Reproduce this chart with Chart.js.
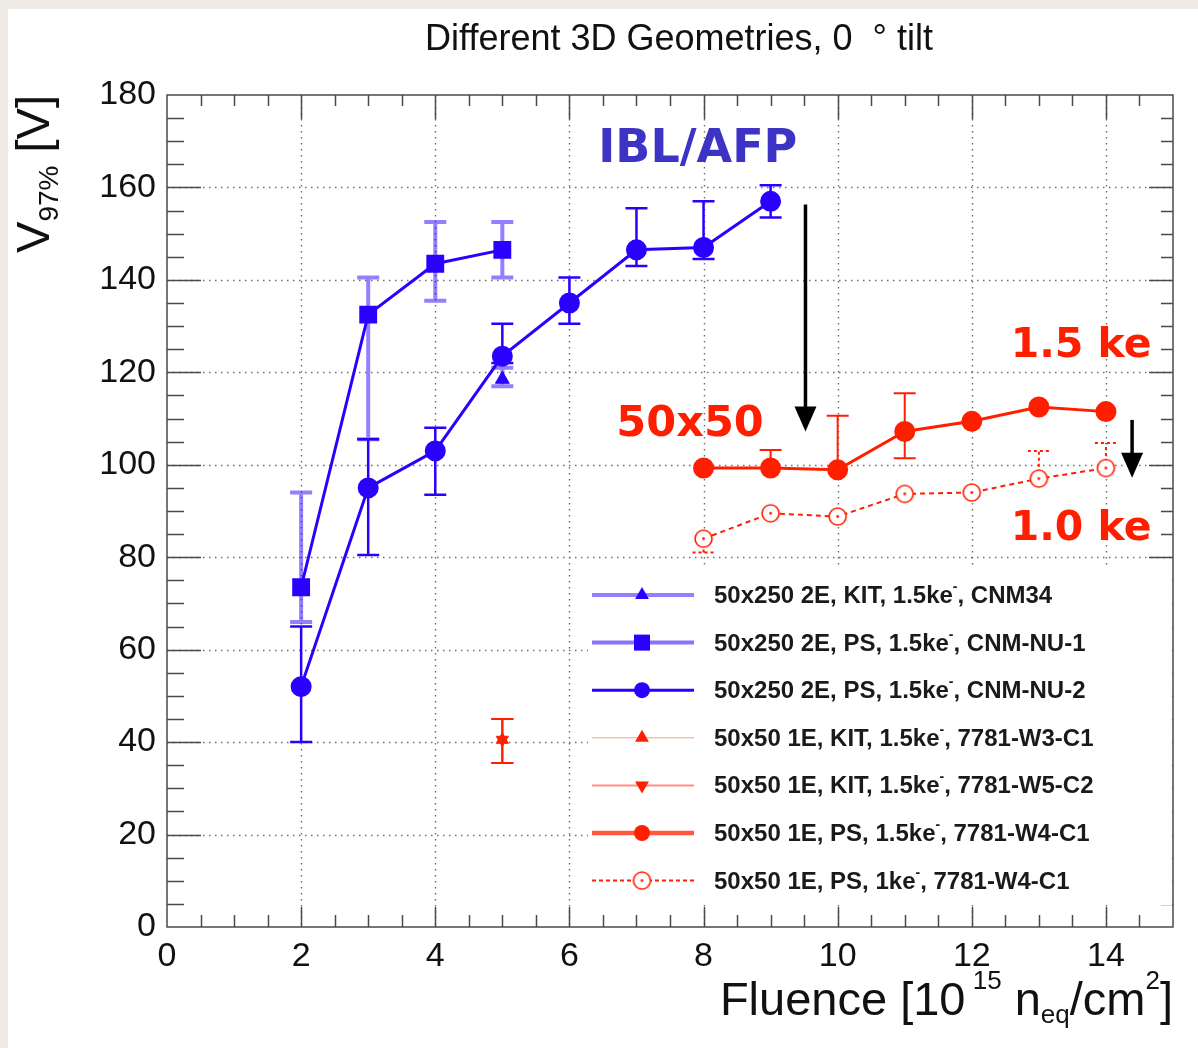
<!DOCTYPE html>
<html>
<head>
<meta charset="utf-8">
<script src="https://cdn.jsdelivr.net/npm/chart.js@4.4.1/dist/chart.umd.min.js"></script>
<style>
  html, body { margin: 0; padding: 0; background: #fff; }
  canvas { display: block; }
</style>
</head>
<body>
<canvas id="chart" width="1198" height="1048"></canvas>
<script>
// ---- data ----
const xTicks = [0, 2, 4, 6, 8, 10, 12, 14];
const yTicks = [0, 20, 40, 60, 80, 100, 120, 140, 160, 180];

// 50x250 2E, KIT, 1.5ke-, CNM34
const cnm34X = [5];
const cnm34Y = [118.5];
const cnm34Lo = [117];
const cnm34Hi = [121];

// 50x250 2E, PS, 1.5ke-, CNM-NU-1
const nu1X = [2, 3, 4, 5];
const nu1Y = [73.5, 132.5, 143.5, 146.5];
const nu1Lo = [66, 105.5, 135.5, 140.5];
const nu1Hi = [94, 140.5, 152.5, 152.5];

// 50x250 2E, PS, 1.5ke-, CNM-NU-2
const nu2X = [2, 3, 4, 5, 6, 7, 8, 9];
const nu2Y = [52, 95, 103, 123.5, 135, 146.5, 147, 157];
const nu2Lo = [40, 80.5, 93.5, 122, 130.5, 143, 144.5, 153.5];
const nu2Hi = [65, 105.5, 108, 130.5, 140.5, 155.5, 157, 160.5];

// 50x50 1E, KIT, 1.5ke-, 7781-W3-C1 / 7781-W5-C2
const w3X = [5];
const w3Y = [40.5];
const w3Lo = [35.5];
const w3Hi = [45];
const w5X = [5];
const w5Y = [40.5];
const w5Lo = [35.5];
const w5Hi = [45];

// 50x50 1E, PS, 1.5ke-, 7781-W4-C1
const w4X = [8, 9, 10, 11, 12, 13, 14];
const w4Y = [99.3, 99.3, 98.9, 107.2, 109.4, 112.5, 111.5];
const w4Lo = [null, null, null, 101.4, null, null, null];
const w4Hi = [null, 103.2, 110.6, 115.5, null, null, null];

// 50x50 1E, PS, 1ke-, 7781-W4-C1
const w4kX = [8, 9, 10, 11, 12, 13, 14];
const w4kY = [84, 89.5, 88.8, 93.7, 94, 97, 99.3];
const w4kLo = [81, null, null, null, null, null, null];
const w4kHi = [null, null, null, null, null, 103, 104.7];

// ---- styles ----
const FONT = '"Liberation Sans", Arial, Helvetica, sans-serif';
const BOLDFONT = '"DejaVu Sans", "Liberation Sans", sans-serif';
const BLUE = '#2a00ff';
const BLUE_LIGHT = 'rgba(42,0,255,0.5)';
const RED = '#ff1f00';

function pts(xs, ys) {
  return xs.map((x, i) => ({ x: x, y: ys[i] }));
}

function makeOpenCircle(color, r) {
  const c = document.createElement('canvas');
  const s = Math.ceil(r * 2 + 4);
  c.width = s;
  c.height = s;
  const g = c.getContext('2d');
  g.fillStyle = '#fff';
  g.strokeStyle = color;
  g.lineWidth = 1.6;
  g.beginPath();
  g.arc(s / 2, s / 2, r, 0, Math.PI * 2);
  g.fill();
  g.stroke();
  g.fillStyle = color;
  g.beginPath();
  g.arc(s / 2, s / 2, 1.4, 0, Math.PI * 2);
  g.fill();
  return c;
}
const openCircle = makeOpenCircle(RED, 8.5);

const datasets = [
  {
    label: '50x250 2E, KIT, 1.5ke^{-}, CNM34',
    data: pts(cnm34X, cnm34Y), errLo: cnm34Lo, errHi: cnm34Hi,
    errColor: BLUE_LIGHT, errWidth: 4,
    showLine: false, pointStyle: 'triangle', pointRadius: 8,
    backgroundColor: BLUE, borderColor: BLUE, borderWidth: 1,
    legend: { line: 'rgba(42,0,255,0.5)', lw: 4, marker: 'triangle', size: 8 }
  },
  {
    label: '50x250 2E, PS, 1.5ke^{-}, CNM-NU-1',
    data: pts(nu1X, nu1Y), errLo: nu1Lo, errHi: nu1Hi,
    errColor: BLUE_LIGHT, errWidth: 4,
    showLine: true, borderColor: BLUE, borderWidth: 3,
    pointStyle: 'rect', pointRadius: 10.5, pointBackgroundColor: BLUE, pointBorderColor: BLUE,
    legend: { line: 'rgba(42,0,255,0.55)', lw: 4, marker: 'rect', size: 8 }
  },
  {
    label: '50x250 2E, PS, 1.5ke^{-}, CNM-NU-2',
    data: pts(nu2X, nu2Y), errLo: nu2Lo, errHi: nu2Hi,
    errColor: BLUE, errWidth: 2.5,
    showLine: true, borderColor: BLUE, borderWidth: 3,
    pointStyle: 'circle', pointRadius: 9, pointBackgroundColor: BLUE, pointBorderColor: BLUE,
    legend: { line: BLUE, lw: 3, marker: 'circle', size: 8 }
  },
  {
    label: '50x50 1E, KIT, 1.5ke^{-}, 7781-W3-C1',
    data: pts(w3X, w3Y), errLo: w3Lo, errHi: w3Hi,
    errColor: RED, errWidth: 2,
    showLine: false, pointStyle: 'triangle', pointRadius: 7,
    backgroundColor: RED, borderColor: RED, borderWidth: 1,
    legend: { line: 'rgba(255,31,0,0.3)', lw: 1.5, marker: 'triangle', size: 8 }
  },
  {
    label: '50x50 1E, KIT, 1.5ke^{-}, 7781-W5-C2',
    data: pts(w5X, w5Y), errLo: w5Lo, errHi: w5Hi,
    errColor: RED, errWidth: 2,
    showLine: false, pointStyle: 'triangle', pointRotation: 180, pointRadius: 7,
    backgroundColor: RED, borderColor: RED, borderWidth: 1,
    legend: { line: 'rgba(255,31,0,0.5)', lw: 2, marker: 'triangleDown', size: 8 }
  },
  {
    label: '50x50 1E, PS, 1.5ke^{-}, 7781-W4-C1',
    data: pts(w4X, w4Y), errLo: w4Lo, errHi: w4Hi,
    errColor: RED, errWidth: 2,
    showLine: true, borderColor: RED, borderWidth: 3,
    pointStyle: 'circle', pointRadius: 9, pointBackgroundColor: RED, pointBorderColor: RED,
    legend: { line: 'rgba(255,31,0,0.75)', lw: 4.5, marker: 'circle', size: 8 }
  },
  {
    label: '50x50 1E, PS, 1ke^{-}, 7781-W4-C1',
    data: pts(w4kX, w4kY), errLo: w4kLo, errHi: w4kHi,
    errColor: RED, errWidth: 2, errDash: [3, 3],
    showLine: true, borderColor: RED, borderWidth: 2, borderDash: [5, 4],
    pointStyle: openCircle, pointRadius: 9,
    legend: { line: RED, lw: 2, dash: [4, 3], marker: 'open', size: 8 }
  }
];

const notes = [
  { text: 'IBL/AFP', x: 6.43, y: 165.5, size: 46, color: '#3d33c4', align: 'left' },
  { text: '50x50', x: 6.7, y: 106.3, size: 43, color: RED, align: 'left' },
  { text: '1.5 ke', x: 14.68, y: 123.4, size: 41, color: RED, align: 'right' },
  { text: '1.0 ke', x: 14.68, y: 83.8, size: 41, color: RED, align: 'right' }
];
const arrows = [
  { x: 9.52, from: 156.3, to: 107.2 },
  { x: 14.39, from: 109.7, to: 97.2 }
];

// ---- rich text helper (ROOT-like ^{} and _{}) ----
function richParts(str) {
  const parts = [];
  const re = /(\^|_)\{([^}]*)\}/g;
  let last = 0, m;
  while ((m = re.exec(str))) {
    if (m.index > last) parts.push({ t: str.slice(last, m.index), k: 0 });
    parts.push({ t: m[2], k: m[1] === '^' ? 1 : -1 });
    last = re.lastIndex;
  }
  if (last < str.length) parts.push({ t: str.slice(last), k: 0 });
  return parts;
}

function drawRich(ctx, str, x, y, size, align, weight, family, supUp, subDown, ratio) {
  const parts = richParts(str);
  const small = Math.round(size * (ratio || 0.58));
  const fontOf = p => weight + ' ' + (p.k ? small : size) + 'px ' + family;
  let total = 0;
  parts.forEach(p => {
    ctx.font = fontOf(p);
    p.w = ctx.measureText(p.t).width;
    total += p.w;
  });
  let cx = align === 'right' ? x - total : align === 'center' ? x - total / 2 : x;
  ctx.textAlign = 'left';
  ctx.textBaseline = 'alphabetic';
  parts.forEach(p => {
    ctx.font = fontOf(p);
    const dy = p.k === 1 ? -size * supUp : p.k === -1 ? size * subDown : 0;
    ctx.fillText(p.t, cx, y + dy);
    cx += p.w;
  });
  return total;
}

function drawMarker(ctx, kind, x, y, r, color) {
  ctx.save();
  ctx.fillStyle = color;
  ctx.strokeStyle = color;
  ctx.beginPath();
  if (kind === 'triangle') {
    ctx.moveTo(x, y - r);
    ctx.lineTo(x + r * 0.866, y + r * 0.5);
    ctx.lineTo(x - r * 0.866, y + r * 0.5);
    ctx.closePath();
    ctx.fill();
  } else if (kind === 'triangleDown') {
    ctx.moveTo(x, y + r);
    ctx.lineTo(x + r * 0.866, y - r * 0.5);
    ctx.lineTo(x - r * 0.866, y - r * 0.5);
    ctx.closePath();
    ctx.fill();
  } else if (kind === 'rect') {
    ctx.fillRect(x - r, y - r, 2 * r, 2 * r);
  } else if (kind === 'circle') {
    ctx.arc(x, y, r, 0, Math.PI * 2);
    ctx.fill();
  } else if (kind === 'open') {
    ctx.drawImage(openCircle, x - openCircle.width / 2, y - openCircle.height / 2);
  }
  ctx.restore();
}

const rootStyle = {
  id: 'rootStyle',
  beforeDraw(chart) {
    const ctx = chart.ctx;
    ctx.save();
    ctx.fillStyle = '#efebe4';
    ctx.fillRect(0, 0, chart.width, chart.height);
    ctx.fillStyle = '#ffffff';
    ctx.fillRect(8, 9, chart.width - 8, chart.height - 9);
    ctx.restore();
  },
  beforeDatasetsDraw(chart) {
    const { ctx, chartArea: a, scales: { x, y } } = chart;
    ctx.save();
    // dotted grid
    ctx.strokeStyle = '#6e6e6e';
    ctx.lineWidth = 1.4;
    ctx.setLineDash([1.5, 4.5]);
    xTicks.forEach(v => {
      if (v <= x.min || v >= x.max) return;
      const px = Math.round(x.getPixelForValue(v)) + 0.5;
      ctx.beginPath(); ctx.moveTo(px, a.top); ctx.lineTo(px, a.bottom); ctx.stroke();
    });
    yTicks.forEach(v => {
      if (v <= y.min || v >= y.max) return;
      const py = Math.round(y.getPixelForValue(v)) + 0.5;
      ctx.beginPath(); ctx.moveTo(a.left, py); ctx.lineTo(a.right, py); ctx.stroke();
    });
    // error bars
    chart.data.datasets.forEach(ds => {
      if (!ds.errLo) return;
      ctx.strokeStyle = ds.errColor;
      ctx.lineWidth = ds.errWidth;
      ctx.setLineDash(ds.errDash || []);
      const cap = 11;
      ds.data.forEach((p, j) => {
        const lo = ds.errLo[j], hi = ds.errHi[j];
        if (lo == null && hi == null) return;
        const px = x.getPixelForValue(p.x);
        const pLo = y.getPixelForValue(lo == null ? p.y : lo);
        const pHi = y.getPixelForValue(hi == null ? p.y : hi);
        ctx.beginPath();
        ctx.moveTo(px, pLo); ctx.lineTo(px, pHi);
        if (lo != null) { ctx.moveTo(px - cap, pLo); ctx.lineTo(px + cap, pLo); }
        if (hi != null) { ctx.moveTo(px - cap, pHi); ctx.lineTo(px + cap, pHi); }
        ctx.stroke();
      });
    });
    ctx.restore();
  },
  afterDatasetsDraw(chart) {
    const { ctx, chartArea: a, scales: { x, y } } = chart;
    ctx.save();

    // frame and ticks
    ctx.setLineDash([]);
    ctx.strokeStyle = '#4a4a4a';
    ctx.lineWidth = 1.5;
    ctx.strokeRect(a.left, a.top, a.right - a.left, a.bottom - a.top);
    ctx.beginPath();
    for (let v = 0.5; v < x.max; v += 0.5) {
      const px = Math.round(x.getPixelForValue(v)) + 0.5;
      const major = Math.abs(v / 2 - Math.round(v / 2)) < 1e-9;
      ctx.moveTo(px, a.bottom); ctx.lineTo(px, a.bottom - (major ? 20 : 12));
      ctx.moveTo(px, a.top); ctx.lineTo(px, a.top + (major ? 24 : 11));
    }
    for (let v = 5; v < y.max; v += 5) {
      const py = Math.round(y.getPixelForValue(v)) + 0.5;
      const major = v % 20 === 0;
      ctx.moveTo(a.left, py); ctx.lineTo(a.left + (major ? 34 : 17), py);
      ctx.moveTo(a.right, py); ctx.lineTo(a.right - (major ? 24 : 12), py);
    }
    ctx.stroke();

    // arrows
    ctx.fillStyle = '#000';
    ctx.strokeStyle = '#000';
    ctx.lineWidth = 3.5;
    arrows.forEach(ar => {
      const px = x.getPixelForValue(ar.x);
      const p0 = y.getPixelForValue(ar.from);
      const p1 = y.getPixelForValue(ar.to);
      ctx.beginPath(); ctx.moveTo(px, p0); ctx.lineTo(px, p1 - 20); ctx.stroke();
      ctx.beginPath();
      ctx.moveTo(px, p1); ctx.lineTo(px - 11, p1 - 25); ctx.lineTo(px + 11, p1 - 25);
      ctx.closePath(); ctx.fill();
    });

    // annotations
    notes.forEach(n => {
      ctx.font = 'bold ' + n.size + 'px ' + BOLDFONT;
      ctx.fillStyle = n.color;
      ctx.textAlign = n.align;
      ctx.textBaseline = 'alphabetic';
      ctx.fillText(n.text, x.getPixelForValue(n.x), y.getPixelForValue(n.y));
    });

    // legend
    const lx = 588, ly = 568, rowH = 47.6;
    ctx.fillStyle = '#fff';
    ctx.fillRect(lx, ly, a.right - lx - 1, 337);
    chart.data.datasets.forEach((ds, i) => {
      const cy = 595 + i * rowH;
      const L = ds.legend;
      ctx.save();
      ctx.strokeStyle = L.line;
      ctx.lineWidth = L.lw;
      ctx.setLineDash(L.dash || []);
      ctx.beginPath(); ctx.moveTo(592, cy); ctx.lineTo(694, cy); ctx.stroke();
      ctx.restore();
      const mc = ds.errColor === BLUE || ds.errColor === BLUE_LIGHT ? BLUE : RED;
      drawMarker(ctx, L.marker, 642, cy, L.size, mc);
      ctx.fillStyle = '#1a1a1a';
      drawRich(ctx, ds.label, 714, cy + 8, 24, 'left', 'bold', FONT, 0.5, 0.2);
    });

    // title
    ctx.fillStyle = '#111';
    ctx.font = '36px ' + FONT;
    ctx.textAlign = 'center';
    ctx.textBaseline = 'alphabetic';
    ctx.fillText('Different 3D Geometries, 0  \u00b0 tilt', 679, 50);

    // x axis title
    drawRich(ctx, 'Fluence [10^{ 15} n_{eq}/cm^{2}]', a.right, 1015, 47, 'right', 'normal', FONT, 0.55, 0.18, 0.55);

    // y axis title (rotated)
    ctx.save();
    ctx.translate(49, 0);
    ctx.rotate(-Math.PI / 2);
    drawRich(ctx, 'V_{97%} [V]', -a.top, 0, 47, 'right', 'normal', FONT, 0.55, 0.2, 0.6);
    ctx.restore();

    ctx.restore();
  }
};

new Chart(document.getElementById('chart').getContext('2d'), {
  type: 'scatter',
  data: { datasets: datasets },
  options: {
    responsive: false,
    animation: false,
    devicePixelRatio: 1,
    layout: { padding: { top: 95, right: 25, left: 0, bottom: 0 } },
    plugins: {
      legend: { display: false },
      tooltip: { enabled: false },
      title: { display: false }
    },
    scales: {
      x: {
        type: 'linear',
        min: 0,
        max: 15,
        afterBuildTicks: s => { s.ticks = xTicks.map(v => ({ value: v })); },
        afterFit: s => { s.height = 121; },
        grid: { display: false, drawTicks: false },
        border: { display: false },
        ticks: { font: { family: FONT, size: 34 }, color: '#111', padding: 9, maxRotation: 0, autoSkip: false }
      },
      y: {
        type: 'linear',
        min: 0,
        max: 180,
        afterBuildTicks: s => { s.ticks = yTicks.map(v => ({ value: v })); },
        afterFit: s => { s.width = 167; },
        grid: { display: false, drawTicks: false },
        border: { display: false },
        ticks: { font: { family: FONT, size: 34 }, color: '#111', padding: 11, autoSkip: false }
      }
    }
  },
  plugins: [rootStyle]
});
</script>
</body>
</html>
